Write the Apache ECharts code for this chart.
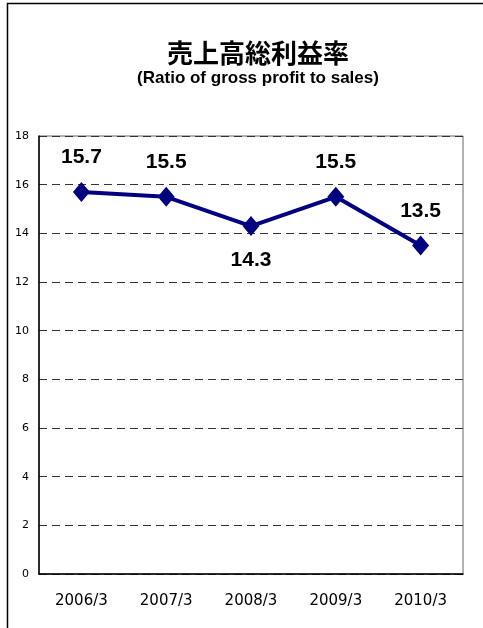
<!DOCTYPE html>
<html><head><meta charset="utf-8">
<script src="https://cdn.jsdelivr.net/npm/echarts@6/dist/echarts.min.js"></script>
<style>html,body{margin:0;padding:0;background:#fff}#c{width:483px;height:628px}</style>
</head><body><div id="c"></div>
<script>
var categories = ['2006/3', '2007/3', '2008/3', '2009/3', '2010/3'];
var ratio = [15.7, 15.5, 14.3, 15.5, 13.5];
var labelPos = ['top', 'top', 'bottom', 'top', 'top'];
var yTicks = { min: 0, max: 18, interval: 2 };

var chart = echarts.init(document.getElementById('c'));
chart.setOption({
  animation: false,
  backgroundColor: '#fff',
  graphic: [{
    type: 'rect', shape: { x: 7.5, y: 3.5, width: 600, height: 800 },
    style: { fill: 'none', stroke: '#000', lineWidth: 1.5 }, silent: true, z: -1
  }],
  title: {
    text: '売上高総利益率',
    subtext: '(Ratio of gross profit to sales)',
    left: 253, top: 35, textAlign: 'center', itemGap: 4,
    textStyle: { fontFamily: 'Noto Sans CJK JP', fontSize: 26, fontWeight: 'bold', color: '#000' },
    subtextStyle: { fontFamily: 'Liberation Sans', fontSize: 17, fontWeight: 'bold', color: '#000' }
  },
  grid: { left: 39, right: 20, top: 136, bottom: 54, show: true, borderColor: '#666', borderWidth: 1 },
  xAxis: {
    type: 'category', data: categories, boundaryGap: true,
    axisLine: { lineStyle: { color: '#000', width: 1.5 } },
    axisTick: { inside: true, length: 5, lineStyle: { color: '#000' } },
    axisLabel: { fontFamily: 'DejaVu Sans', fontSize: 15, color: '#000', margin: 20 }
  },
  yAxis: {
    type: 'value', min: yTicks.min, max: yTicks.max, interval: yTicks.interval,
    axisLine: { show: true, lineStyle: { color: '#000', width: 1.5 } },
    axisTick: { show: false },
    axisLabel: { fontFamily: 'DejaVu Sans', fontSize: 11, color: '#000', margin: 10 },
    splitLine: { lineStyle: { color: '#333', type: [8, 5], width: 1 } }
  },
  series: [{
    type: 'line', data: ratio.map(function (v, i) {
      return { value: v, label: { position: labelPos[i] } };
    }),
    lineStyle: { color: '#000080', width: 4 },
    itemStyle: { color: '#000080' },
    symbol: 'diamond', symbolSize: [17, 20],
    label: {
      show: true, fontFamily: 'Liberation Sans', fontSize: 21, fontWeight: 'bold', color: '#000',
      distance: 14, formatter: function (p) { return p.value.toFixed(1); }
    }
  }]
});
</script></body></html>
